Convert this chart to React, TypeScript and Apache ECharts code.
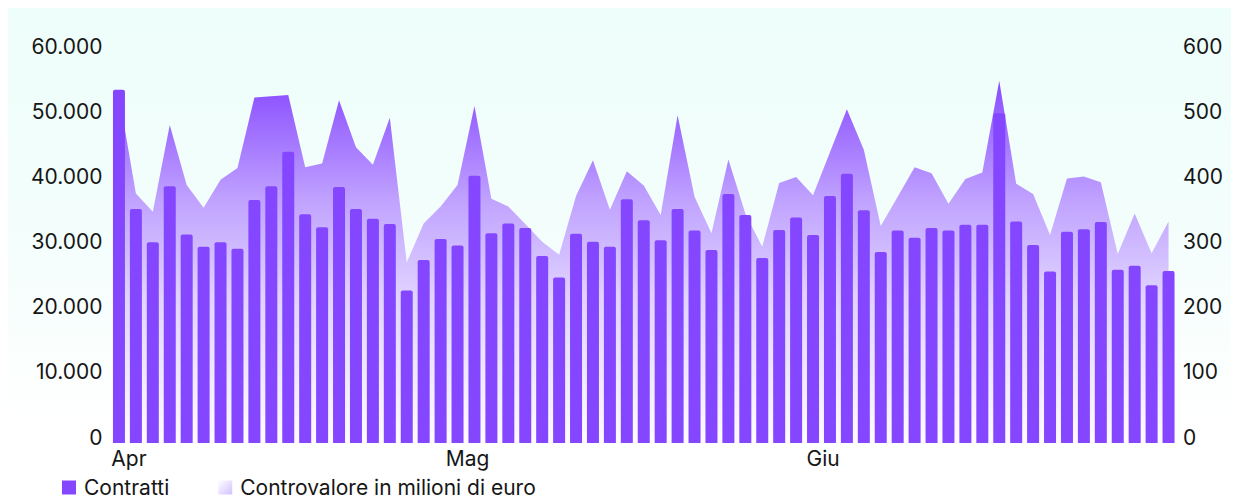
import React, { useEffect, useRef } from "react";
import * as echarts from "echarts";

// Trading days (Apr–Jun 2024)
const categories: string[] = [
  "02/04", "03/04", "04/04", "05/04", "08/04", "09/04", "10/04", "11/04", "12/04",
  "15/04", "16/04", "17/04", "18/04", "19/04", "22/04", "23/04", "24/04", "25/04", "26/04",
  "29/04", "30/04",
  "02/05", "03/05", "06/05", "07/05", "08/05", "09/05", "10/05", "13/05", "14/05", "15/05",
  "16/05", "17/05", "20/05", "21/05", "22/05", "23/05", "24/05", "27/05", "28/05", "29/05",
  "30/05", "31/05",
  "03/06", "04/06", "05/06", "06/06", "07/06", "10/06", "11/06", "12/06", "13/06", "14/06",
  "17/06", "18/06", "19/06", "20/06", "21/06", "24/06", "25/06", "26/06", "27/06", "28/06",
];

const contratti: number[] = [
  54200, 35900, 30800, 39400, 32000, 30100, 30800, 29800, 37300, 39400,
  44700, 35100, 33100, 39300, 35900, 34400, 33600, 23400, 28100, 31300,
  30300, 41000, 32200, 33700, 33000, 28700, 25400, 32100, 30900, 30100,
  37400, 34200, 31100, 35900, 32600, 29600, 38200, 35000, 28400, 32700,
  34600, 31900, 37900, 41300, 35700, 29300, 32600, 31500, 33000, 32600,
  33500, 33500, 50600, 34000, 30400, 26300, 32400, 32800, 33900, 26600,
  27200, 24200, 26400,
];

const controvalore: number[] = [
  534, 383, 355, 488, 396, 361, 404, 422, 530, 532,
  534, 423, 429, 526, 454, 427, 499, 277, 337, 363,
  396, 517, 375, 363, 336, 309, 289, 379, 434, 358,
  417, 395, 350, 503, 378, 322, 435, 352, 301, 399,
  408, 380, 446, 512, 450, 333, 378, 423, 414, 367,
  405, 415, 556, 398, 382, 319, 406, 409, 400, 290,
  352, 291, 340,
];

const monthTickIndex: number[] = [0, 20, 41];
const monthTickLabel: string[] = ["Apr", "Mag", "Giu"];

const SERIES_BARS = "Contratti";
const SERIES_AREA = "Controvalore in milioni di euro";

const FONT = "Inter, 'Noto Sans', sans-serif";
const TEXT = "#161616";
const PURPLE = "#8447ff";
const FS = 21;

const fmtIt = (v: number) => String(v).replace(/\B(?=(\d{3})+(?!\d))/g, ".");

export default function App() {
  const ref = useRef<HTMLDivElement>(null);

  useEffect(() => {
    if (!ref.current) return;
    const chart = echarts.init(ref.current, undefined, { renderer: "svg" });

    const areaGradient = new echarts.graphic.LinearGradient(0, 0, 0, 1, [
      { offset: 0, color: "#884bff" },
      { offset: 0.33, color: "#c0a2ff" },
      { offset: 0.6, color: "#e0d4ff" },
      { offset: 0.88, color: "#f4f0ff" },
      { offset: 1, color: "#fdfcff" },
    ]);
    const legendGradient = new echarts.graphic.LinearGradient(0, 0, 1, 1, [
      { offset: 0, color: "#ffffff" },
      { offset: 1, color: "#d2c0ff" },
    ]);

    const yLabel = {
      fontFamily: FONT,
      fontSize: FS,
      color: TEXT,
      verticalAlign: "bottom",
      lineHeight: 12,
    };

    chart.setOption({
      animation: false,
      backgroundColor: {
        type: "linear",
        x: 0,
        y: 0,
        x2: 0,
        y2: 1,
        colorStops: [
          { offset: 0, color: "#eefefa" },
          { offset: 0.45, color: "#f3fefc" },
          { offset: 0.85, color: "#ffffff" },
          { offset: 1, color: "#ffffff" },
        ],
      },
      textStyle: { fontFamily: FONT },
      grid: { left: 102.5, right: 62, top: 44, bottom: 56, containLabel: false },
      legend: {
        left: 54,
        top: 469,
        padding: 0,
        icon: "rect",
        itemWidth: 14,
        itemHeight: 14,
        itemGap: 49,
        textStyle: {
          fontFamily: FONT,
          fontSize: FS,
          color: TEXT,
          lineHeight: 16,
          padding: [0, 0, 0, 3],
        },
        data: [
          { name: SERIES_BARS, itemStyle: { color: PURPLE } },
          { name: SERIES_AREA, itemStyle: { color: legendGradient } },
        ],
      },
      xAxis: {
        type: "category",
        data: categories,
        boundaryGap: true,
        axisLine: { show: false },
        axisTick: { show: false },
        splitLine: { show: false },
        axisLabel: {
          interval: (index: number) => monthTickIndex.includes(index),
          formatter: (_v: string, index: number) => {
            const k = monthTickIndex.indexOf(index);
            return k >= 0 ? monthTickLabel[k] : "";
          },
          fontFamily: FONT,
          fontSize: FS,
          color: TEXT,
          margin: 5,
          padding: [0, 0, 0, 20],
        },
      },
      yAxis: [
        {
          type: "value",
          min: 0,
          max: 60000,
          interval: 10000,
          position: "left",
          axisLine: { show: false },
          axisTick: { show: false },
          splitLine: { show: false },
          axisLabel: {
            ...yLabel,
            formatter: (v: number) => fmtIt(v),
            margin: 8,
          },
        },
        {
          type: "value",
          min: 0,
          max: 600,
          interval: 100,
          position: "right",
          axisLine: { show: false },
          axisTick: { show: false },
          splitLine: { show: false },
          axisLabel: {
            ...yLabel,
            margin: 6,
          },
        },
      ],
      series: [
        {
          name: SERIES_AREA,
          type: "line",
          yAxisIndex: 1,
          data: controvalore,
          showSymbol: false,
          symbol: "none",
          lineStyle: { width: 0 },
          itemStyle: { color: "#d2c0ff" },
          areaStyle: { color: areaGradient, opacity: 1 },
          z: 1,
        },
        {
          name: SERIES_BARS,
          type: "bar",
          yAxisIndex: 0,
          data: contratti,
          barWidth: 12,
          itemStyle: { color: PURPLE, borderRadius: [2, 2, 0, 0] },
          z: 2,
        },
      ],
    });

    return () => chart.dispose();
  }, []);

  return <div ref={ref} style={{ width: 1231, height: 491 }} />;
}
